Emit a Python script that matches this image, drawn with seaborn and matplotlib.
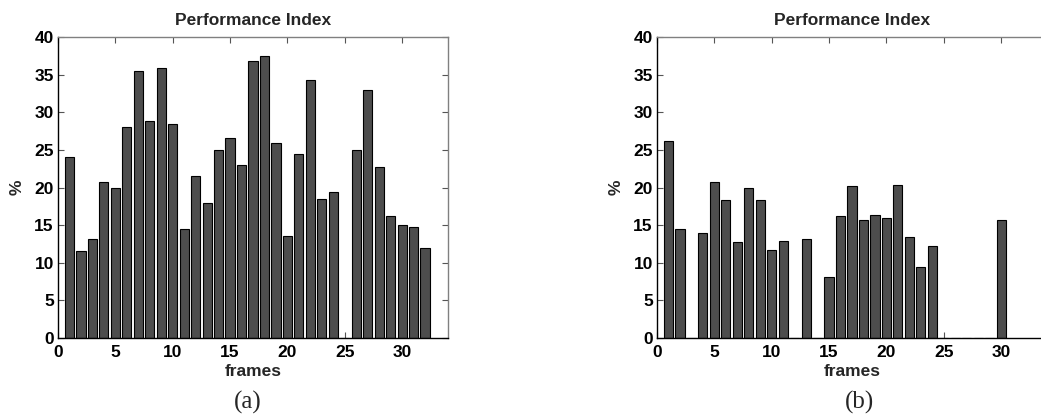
import matplotlib
matplotlib.use("Agg")
import matplotlib.pyplot as plt
import seaborn as sns
import numpy as np

frames_a = list(range(1, 33))
values_a = [24.0, 11.5, 13.2, 20.7, 20.0, 28.0, 35.5, 28.8, 35.9, 28.5,
            14.5, 21.5, 17.9, 25.0, 26.6, 23.0, 36.8, 37.5, 25.9, 13.6,
            24.5, 34.3, 18.5, 19.4, 0.0, 25.0, 33.0, 22.7, 16.2, 15.0,
            14.8, 12.0]

frames_b = list(range(1, 31))
values_b = [26.2, 14.5, 0.0, 13.9, 20.7, 18.3, 12.7, 20.0, 18.3, 11.7,
            12.9, 0.0, 13.2, 0.0, 8.15, 16.2, 20.2, 15.7, 16.4, 15.9,
            20.3, 13.4, 9.5, 12.2, 0.0, 0.0, 0.0, 0.0, 0.0, 15.7]

title_text = "Performance Index"
xlabel_text = "frames"
ylabel_text = "%"
captions = ["(a)", "(b)"]
yticks = [0, 5, 10, 15, 20, 25, 30, 35, 40]
xticks = [0, 5, 10, 15, 20, 25, 30]

sns.set_style("white")
plt.rcParams['font.family'] = ['Liberation Sans', 'DejaVu Sans']

W, H = 1041, 415
fig = plt.figure(figsize=(W / 100, H / 100), dpi=100)

def make_panel(left_px, frames, values, caption, cap_x):
    ax = fig.add_axes([left_px / W, (H - 338) / H, 390 / W, 301 / H])
    sns.barplot(x=frames, y=values, native_scale=True, color="#4d4d4d",
                edgecolor="black", linewidth=0.8, width=0.8, saturation=1,
                ax=ax)
    ax.set_xlim(0, 34)
    ax.set_ylim(0, 40)
    ax.set_xticks(xticks)
    ax.set_yticks(yticks)
    ax.set_xticklabels([str(t) for t in xticks], fontsize=12.5, fontweight="bold")
    ax.set_yticklabels([str(t) for t in yticks], fontsize=12.5, fontweight="bold")
    ax.tick_params(direction="in", length=4, width=0.8, top=True, right=True,
                   bottom=True, left=True, colors="#555555", labelcolor="black")
    ax.tick_params(axis="x", pad=5)
    ax.tick_params(axis="y", pad=3)
    ax.set_title(title_text, fontsize=12.5, fontweight="bold", pad=9)
    ax.set_xlabel(xlabel_text, fontsize=12.5, fontweight="bold", labelpad=3)
    ax.set_ylabel(ylabel_text, fontsize=12.5, fontweight="bold", labelpad=7)
    for s in ["left", "bottom"]:
        ax.spines[s].set_color("black")
        ax.spines[s].set_linewidth(1.0)
    for s in ["top", "right"]:
        ax.spines[s].set_color("#808080")
        ax.spines[s].set_linewidth(1.0)
    fig.text(cap_x / W, 1 - 402 / H, caption, ha="center", va="center",
             fontsize=18, family=["Liberation Serif", "DejaVu Serif"])
    return ax

make_panel(58, frames_a, values_a, captions[0], 248)
make_panel(657, frames_b, values_b, captions[1], 860)

fig.savefig("out.png", dpi=100)
